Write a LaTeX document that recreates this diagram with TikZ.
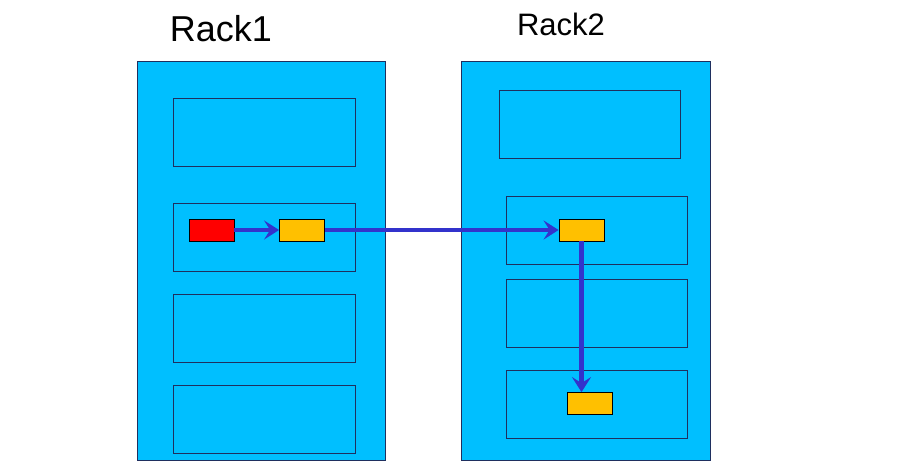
\documentclass[tikz,border=0pt]{standalone}
\usepackage{fontspec}
\setmainfont{Liberation Sans}
\usepackage{tikz}
\usetikzlibrary{arrows.meta}
\tikzset{>=latex}
\definecolor{rackblue}{HTML}{00BFFF}
\definecolor{edge}{HTML}{1F2F5F}
\definecolor{flowblue}{HTML}{3333CC}
\definecolor{chunk}{HTML}{FFC000}
\tikzset{
    rack/.style={draw=edge, fill=rackblue, line width=0.8pt, anchor=north west, inner sep=0pt},
    slot/.style={draw=edge, line width=0.8pt, anchor=north west, inner sep=0pt},
    block/.style={draw=black, line width=0.8pt, minimum width=45pt, minimum height=22pt, inner sep=0pt},
    flow/.style={draw=flowblue, line width=4.5pt, -{Stealth[length=15pt, width=19pt, inset=6pt]}}
}

\begin{document}
\begin{tikzpicture}[x=1pt, y=-1pt]
    \useasboundingbox (0, 0) rectangle (912, 462);
    \fill[white] (0, 0) rectangle (912, 462);
    % racks
    \node[rack, minimum width=248pt, minimum height=399pt] (rack1) at (137, 61) {};
    \node[rack, minimum width=249pt, minimum height=399pt] (rack2) at (461, 61) {};
    \node[anchor=base, font=\fontsize{36}{36}\selectfont] (title1) at (221, 42) {Rack1};
    \node[anchor=base, font=\fontsize{31}{31}\selectfont] (title2) at (561, 36) {Rack2};
    % slots of rack1
    \foreach \y [count=\i] in {98, 203, 294, 385}
        \node[slot, minimum width=182pt, minimum height=68pt] (a\i) at (173, \y) {};
    % slots of rack2
    \node[slot, minimum width=181pt, minimum height=68pt] (b1) at (499, 90) {};
    \foreach \y [count=\i from 2] in {196, 279, 370}
        \node[slot, minimum width=181pt, minimum height=68pt] (b\i) at (506, \y) {};
    % blocks
    \node[block, fill=red] (src) at (211.5, 230) {};
    \node[block, fill=chunk] (copy1) at (302, 230) {};
    \node[block, fill=chunk] (copy2) at (581.5, 230) {};
    \node[block, fill=chunk] (copy3) at (589.5, 403.5) {};
    % flows
    \draw[flow] (src.east) -- (copy1.west);
    \draw[flow] (copy1.east) -- (copy2.west);
    \draw[flow] (copy2.south) -- (copy2.south |- copy3.north);
\end{tikzpicture}
\end{document}
